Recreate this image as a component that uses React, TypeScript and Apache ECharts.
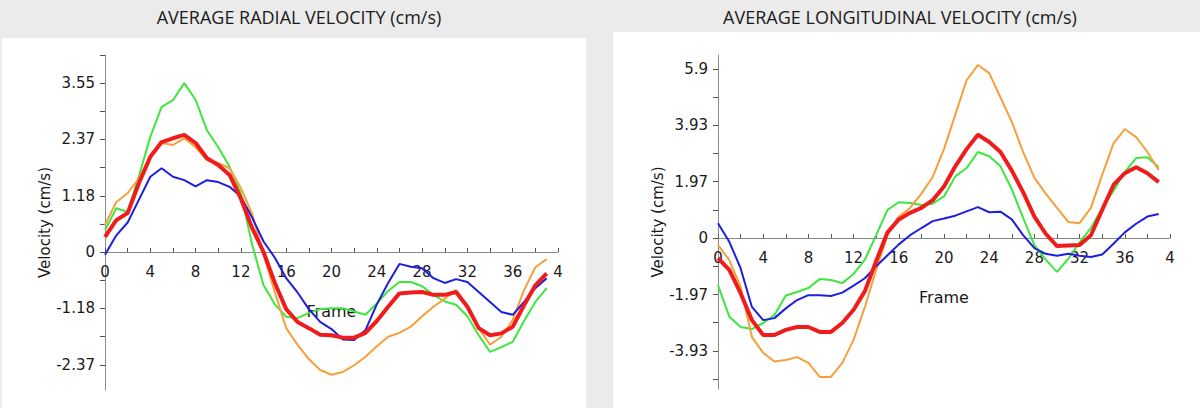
import React, { useEffect, useRef } from "react";
import * as echarts from "echarts";

// Frames 0..39
const frames: number[] = Array.from({ length: 40 }, (_, i) => i);

// AVERAGE RADIAL VELOCITY (cm/s)
const radialGreen = [0.46, 0.92, 0.84, 1.6, 2.42, 3.05, 3.19, 3.55, 3.2, 2.56, 2.2, 1.79, 1.22, 0.15, -0.7, -1.1, -1.36, -1.39, -1.28, -1.2, -1.18, -1.18, -1.25, -1.32, -1.08, -0.82, -0.63, -0.63, -0.72, -0.9, -1.04, -1.11, -1.35, -1.75, -2.1, -2.0, -1.89, -1.45, -1.05, -0.76];
const radialOrange = [0.57, 1.05, 1.24, 1.55, 2.0, 2.29, 2.25, 2.39, 2.2, 1.93, 1.87, 1.76, 1.34, 0.8, -0.05, -0.85, -1.6, -1.95, -2.25, -2.48, -2.58, -2.52, -2.38, -2.2, -1.98, -1.78, -1.7, -1.57, -1.35, -1.15, -0.98, -0.8, -1.15, -1.6, -1.95, -1.78, -1.43, -0.8, -0.32, -0.15];
const radialBlue = [-0.06, 0.35, 0.62, 1.1, 1.58, 1.76, 1.58, 1.51, 1.38, 1.51, 1.47, 1.37, 1.16, 0.72, 0.22, -0.12, -0.55, -0.85, -1.2, -1.47, -1.62, -1.84, -1.85, -1.64, -1.1, -0.65, -0.25, -0.31, -0.34, -0.55, -0.65, -0.57, -0.63, -0.84, -1.05, -1.26, -1.32, -1.05, -0.76, -0.55];
const radialRed = [0.32, 0.67, 0.82, 1.45, 2.0, 2.31, 2.39, 2.46, 2.29, 1.97, 1.83, 1.62, 1.12, 0.5, 0.0, -0.65, -1.2, -1.47, -1.6, -1.74, -1.75, -1.8, -1.8, -1.7, -1.45, -1.15, -0.87, -0.85, -0.84, -0.9, -0.9, -0.84, -1.15, -1.6, -1.75, -1.71, -1.57, -1.12, -0.7, -0.45];

// AVERAGE LONGITUDINAL VELOCITY (cm/s)
const longGreen = [-1.64, -2.74, -3.1, -3.17, -2.96, -2.68, -2.0, -1.88, -1.74, -1.43, -1.46, -1.57, -1.25, -0.75, 0.1, 0.98, 1.25, 1.22, 1.15, 1.2, 1.45, 2.15, 2.44, 3.0, 2.85, 2.5, 1.7, 0.7, -0.25, -0.75, -1.18, -0.72, -0.15, 0.35, 1.05, 1.65, 2.3, 2.79, 2.82, 2.47];
const longOrange = [-0.24, -0.77, -1.7, -3.45, -4.0, -4.3, -4.25, -4.15, -4.35, -4.84, -4.84, -4.35, -3.55, -2.4, -1.1, 0.1, 0.75, 1.05, 1.55, 2.13, 3.1, 4.3, 5.5, 6.03, 5.75, 4.9, 4.05, 3.0, 2.1, 1.55, 1.05, 0.56, 0.52, 1.05, 2.2, 3.3, 3.8, 3.52, 3.0, 2.37];
const longBlue = [0.52, -0.13, -1.05, -2.4, -2.86, -2.79, -2.45, -2.16, -1.99, -1.99, -2.02, -1.9, -1.66, -1.4, -0.98, -0.6, -0.22, 0.1, 0.35, 0.59, 0.68, 0.78, 0.93, 1.08, 0.9, 0.92, 0.65, 0.1, -0.35, -0.55, -0.62, -0.55, -0.62, -0.66, -0.57, -0.2, 0.2, 0.5, 0.75, 0.84];
const longRed = [-0.7, -1.11, -1.92, -2.86, -3.38, -3.38, -3.2, -3.1, -3.1, -3.27, -3.27, -2.96, -2.5, -1.85, -0.8, 0.2, 0.65, 0.88, 1.05, 1.32, 1.8, 2.5, 3.1, 3.6, 3.35, 3.0, 2.35, 1.6, 0.75, 0.15, -0.28, -0.26, -0.24, 0.1, 0.98, 1.85, 2.26, 2.47, 2.26, 1.95];

// Tick labels
const xLabelValues = [0, 4, 8, 12, 16, 20, 24, 28, 32, 36, 40];
const xLabels = ["0", "4", "8", "12", "16", "20", "24", "28", "32", "36", "4"];
const radialLabels = [-2.37, -1.18, 0, 1.18, 2.37, 3.55];
const radialTicks = [-2.37, -1.775, -1.18, -0.59, 0, 0.59, 1.18, 1.775, 2.37, 2.96, 3.55, 4.14];
const longLabels = [-3.93, -1.97, 0, 1.97, 3.93, 5.9];
const longTicks = [-4.92, -3.93, -2.95, -1.97, -0.98, 0, 0.98, 1.97, 2.95, 3.93, 4.92, 5.9];

const titles = ["AVERAGE RADIAL VELOCITY (cm/s)", "AVERAGE LONGITUDINAL VELOCITY (cm/s)"];

const COLORS = { green: "#3ee63e", orange: "#f5a03c", blue: "#1e1ee0", red: "#f01c1c" };
const AXIS_COLOR = "#8a8a8a";
const TEXT_COLOR = "#1a1a1a";
const FONT = "DejaVu Sans";

const GRIDS = [
  { left: 105, top: 55, width: 453, height: 335, yMin: -2.9, yMax: 4.14 },
  { left: 718, top: 55, width: 452, height: 334, yMin: -5.26, yMax: 6.38 },
];

function App() {
  const ref = useRef<HTMLDivElement>(null);

  useEffect(() => {
    if (!ref.current) return;
    const chart = echarts.init(ref.current, undefined, { renderer: "svg" });

    const pairs = (arr: number[]) => frames.map((f, i) => [f, arr[i]]);

    // x axis drawn through the y = 0 level of its grid
    const makeX = (gridIndex: number) => {
      const g = GRIDS[gridIndex];
      const zeroOffset = -((0 - g.yMin) / (g.yMax - g.yMin)) * g.height;
      return {
        type: "value",
        gridIndex,
        position: "bottom",
        offset: zeroOffset,
        min: 0,
        max: 40,
        interval: 2,
        name: "Frame",
        nameLocation: "middle",
        nameGap: 51,
        nameTextStyle: { fontFamily: FONT, fontSize: 16, color: TEXT_COLOR },
        axisLine: { onZero: false, lineStyle: { color: AXIS_COLOR, width: 1 } },
        axisTick: { show: true, inside: true, length: 4, lineStyle: { color: "#555" } },
        axisLabel: {
          customValues: xLabelValues,
          margin: 12,
          fontFamily: FONT,
          fontSize: 15,
          color: TEXT_COLOR,
          formatter: (v: number) => {
            const i = xLabelValues.indexOf(Math.round(v));
            return i >= 0 ? xLabels[i] : "";
          },
        },
        splitLine: { show: false },
      };
    };

    const makeY = (gridIndex: number, labels: number[], ticks: number[]) => ({
      type: "value",
      gridIndex,
      min: GRIDS[gridIndex].yMin,
      max: GRIDS[gridIndex].yMax,
      name: "Velocity (cm/s)",
      nameLocation: "middle",
      nameGap: 53,
      nameTextStyle: { fontFamily: FONT, fontSize: 15, color: TEXT_COLOR },
      axisLine: { show: true, onZero: false, lineStyle: { color: AXIS_COLOR, width: 1 } },
      axisTick: { show: true, customValues: ticks, length: 5, lineStyle: { color: "#555" } },
      axisLabel: {
        customValues: labels,
        margin: 10,
        fontFamily: FONT,
        fontSize: 15,
        color: TEXT_COLOR,
        formatter: (v: number) => String(v),
      },
      splitLine: { show: false },
    });

    const line = (name: string, data: number[], color: string, width: number, idx: number) => ({
      name,
      type: "line",
      xAxisIndex: idx,
      yAxisIndex: idx,
      data: pairs(data),
      showSymbol: false,
      symbol: "none",
      lineStyle: { color, width },
      itemStyle: { color },
      z: width > 3 ? 5 : 3,
    });

    chart.setOption({
      animation: false,
      backgroundColor: "#ebebeb",
      graphic: [
        { type: "rect", z: -10, silent: true, shape: { x: 2, y: 38, width: 584, height: 370 }, style: { fill: "#ffffff" } },
        { type: "rect", z: -10, silent: true, shape: { x: 613, y: 32, width: 587, height: 376 }, style: { fill: "#ffffff" } },
        {
          type: "text",
          x: 299,
          y: 17,
          style: { text: titles[0], fontFamily: "Open Sans", fontSize: 18, fill: TEXT_COLOR, textAlign: "center", textVerticalAlign: "middle" },
        },
        {
          type: "text",
          x: 900,
          y: 17,
          style: { text: titles[1], fontFamily: "Open Sans", fontSize: 18, fill: TEXT_COLOR, textAlign: "center", textVerticalAlign: "middle" },
        },
      ],
      grid: GRIDS.map((g) => ({
        left: g.left,
        top: g.top,
        width: g.width,
        height: g.height,
        containLabel: false,
        outerBoundsMode: "none",
      })),
      xAxis: [makeX(0), makeX(1)],
      yAxis: [makeY(0, radialLabels, radialTicks), makeY(1, longLabels, longTicks)],
      series: [
        line("Green", radialGreen, COLORS.green, 2, 0),
        line("Orange", radialOrange, COLORS.orange, 2, 0),
        line("Blue", radialBlue, COLORS.blue, 2, 0),
        line("Red", radialRed, COLORS.red, 4, 0),
        line("Green", longGreen, COLORS.green, 2, 1),
        line("Orange", longOrange, COLORS.orange, 2, 1),
        line("Blue", longBlue, COLORS.blue, 2, 1),
        line("Red", longRed, COLORS.red, 4, 1),
      ],
    });

    return () => chart.dispose();
  }, []);

  return <div ref={ref} style={{ position: "fixed", left: 0, top: 0, width: 1200, height: 408 }} />;
}

export default App;
